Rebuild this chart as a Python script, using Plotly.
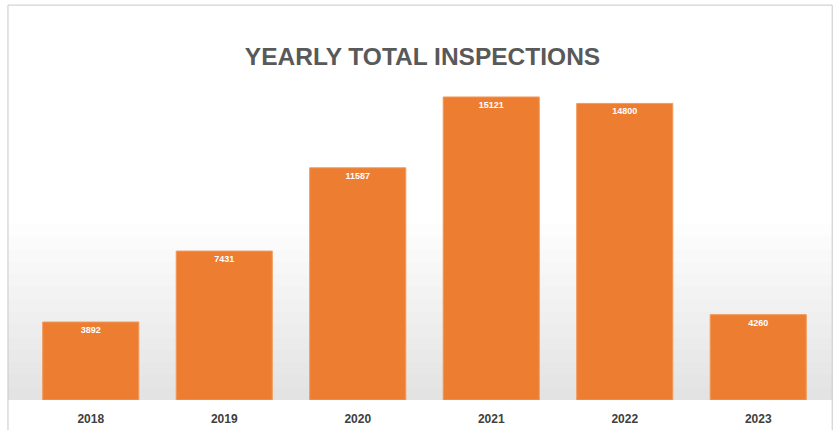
import plotly.graph_objects as go

years = ["2018", "2019", "2020", "2021", "2022", "2023"]
inspections = [3892, 7431, 11587, 15121, 14800, 4260]

BAR_COLOR = "#ED7D31"

fig = go.Figure()
fig.add_trace(go.Bar(
    x=years, y=inspections,
    marker=dict(color=BAR_COLOR, line=dict(color="#F29A5C", width=1)),
    text=[f"<b>{v}</b>" for v in inspections],
    textposition="inside", insidetextanchor="end",
    textfont=dict(color="white", size=9, family="Liberation Sans"),
    textangle=0,
    hoverinfo="x+y",
))

shapes = []
# soft gray floor gradient in lower part of chart
n = 14
for i in range(n):
    y0 = 0.55 * i / n
    shapes.append(dict(type="rect", xref="paper", yref="paper",
                       x0=-0.02, x1=1.009, y0=0, y1=0.55 - y0,
                       fillcolor="rgba(150,150,150,0.025)", line=dict(width=0), layer="below"))
# frame
shapes.append(dict(type="rect", xref="paper", yref="paper",
                   x0=-0.02, x1=1.009, y0=-0.2, y1=1.234,
                   line=dict(color="#C8C8C8", width=1), fillcolor="rgba(0,0,0,0)", layer="below"))

fig.update_layout(
    width=840, height=430,
    margin=dict(l=24, r=15, t=80, b=30, autoexpand=False),
    paper_bgcolor="white", plot_bgcolor="rgba(0,0,0,0)",
    title=dict(text="<b>YEARLY TOTAL INSPECTIONS</b>", x=0.503, xanchor="center",
               y=0.868, yanchor="middle",
               font=dict(family="Liberation Sans", size=24.5, color="#595959")),
    bargap=0.28,
    xaxis=dict(showgrid=False, showline=False, ticks="", automargin=False,
               tickfont=dict(family="Liberation Sans", size=12, color="#404040"),
               ticklabelstandoff=10),
    yaxis=dict(visible=False, range=[0, 15968], automargin=False),
    shapes=shapes,
    showlegend=False,
)
fig.update_xaxes(tickvals=years, ticktext=[f"<b>{y}</b>" for y in years])

fig.write_html("out.html", config={"displayModeBar": False},
               post_script="document.body.style.margin='0';")
